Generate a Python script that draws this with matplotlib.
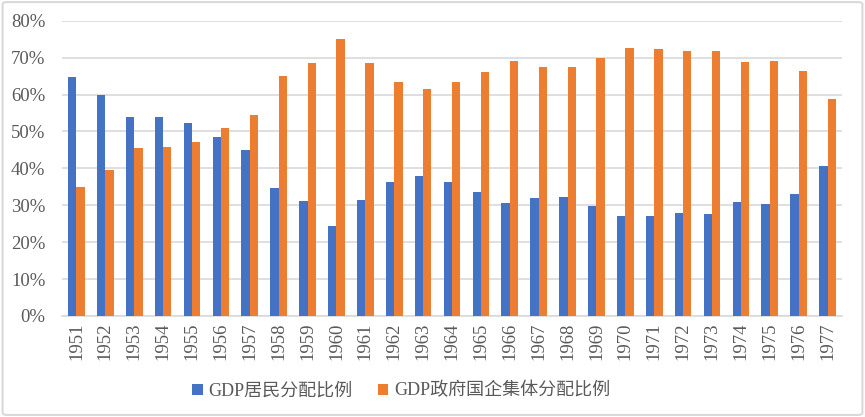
import matplotlib.pyplot as plt
import matplotlib.ticker as mticker
from matplotlib.patches import FancyBboxPatch
import numpy as np

plt.rcParams['font.family'] = ['Liberation Serif', 'Noto Sans CJK SC', 'DejaVu Sans']

# ── 数据 ──────────────────────────────────────────────────────────────
years = [str(y) for y in range(1951, 1978)]
resident = [64.7, 59.9, 54.0, 53.8, 52.4, 48.6, 45.1, 34.6, 31.1, 24.5,
            31.4, 36.3, 37.9, 36.3, 33.7, 30.7, 32.1, 32.2, 29.7, 27.1,
            27.1, 27.8, 27.6, 30.9, 30.4, 33.1, 40.7]
government = [34.9, 39.6, 45.5, 45.8, 47.2, 50.9, 54.5, 65.1, 68.5, 75.0,
              68.5, 63.5, 61.6, 63.5, 66.1, 69.1, 67.5, 67.5, 69.8, 72.6,
              72.4, 71.9, 71.9, 68.8, 69.1, 66.5, 58.9]
labels = ["GDP居民分配比例", "GDP政府国企集体分配比例"]

BLUE, ORANGE = "#4472C4", "#ED7D31"
TXT = "#595959"

fig = plt.figure(figsize=(8.65, 4.17), dpi=100)
ax = fig.add_axes([62 / 865, 1 - 316 / 417, (842 - 62) / 865, (316 - 20.7) / 417])

x = np.arange(len(years))
w = 0.29
ax.bar(x - w / 2, resident, w, color=BLUE, label=labels[0], zorder=3)
ax.bar(x + w / 2, government, w, color=ORANGE, label=labels[1], zorder=3)

ax.set_xlim(-0.5, len(years) - 0.5)
ax.set_ylim(0, 80)
ax.yaxis.set_major_locator(mticker.MultipleLocator(10))
ax.yaxis.set_major_formatter(mticker.FuncFormatter(lambda v, p: f"{v:.0f}%"))
ax.set_xticks(x)
ax.set_xticklabels(years, rotation=90)
ax.tick_params(axis="both", length=0, labelsize=13.5, colors=TXT)
ax.tick_params(axis="x", pad=5)
ax.tick_params(axis="y", pad=12)
ax.grid(axis="y", color="#D9D9D9", linewidth=1.2, zorder=0)
for s in ["top", "right", "left"]:
    ax.spines[s].set_visible(False)
ax.spines["bottom"].set_color("#D9D9D9")
ax.spines["bottom"].set_linewidth(1.2)

leg = fig.legend(loc="center", bbox_to_anchor=(401 / 865, 1 - 391 / 417), ncol=2,
                 frameon=False, fontsize=13, handlelength=0.6, handleheight=0.6,
                 handletextpad=0.3, columnspacing=1.4)
for t in leg.get_texts():
    t.set_color(TXT)

# 外框
border = FancyBboxPatch((0.003, 0.005), 0.994, 0.99, boxstyle="round,pad=0,rounding_size=0.005",
                        transform=fig.transFigure, fill=False, edgecolor="#D9D9D9", linewidth=1.5)
fig.patches.append(border)

fig.savefig("out.png", dpi=100)
